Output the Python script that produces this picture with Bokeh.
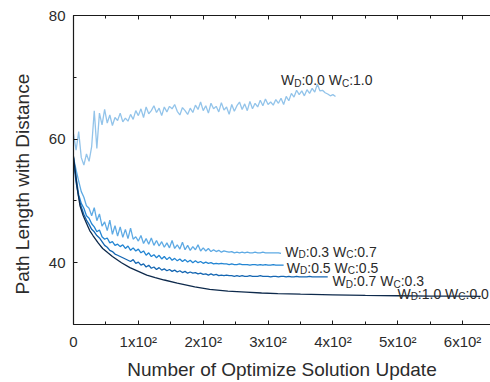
from bokeh.plotting import figure
from bokeh.models import (Range1d, LinearAxis, SingleIntervalTicker, Title,
                          ColumnDataSource, CustomJSTickFormatter)
from bokeh.core.properties import value
from bokeh.embed import file_html
from bokeh.resources import INLINE

# ---- data: path length per optimisation update (sampled every 4 updates) ----
step = 4

wd00_wc10 = [60.8, 58.2, 61.2, 57.0, 55.8, 57.6, 56.4, 58.8, 64.6, 58.5,
             64.2, 62.3, 64.8, 62.6, 63.9, 62.2, 63.5, 63.0, 64.2, 62.8,
             63.4, 62.9, 64.0, 63.2, 64.6, 63.8, 64.9, 63.5, 65.2, 64.1,
             64.6, 65.4, 64.3, 65.0, 63.8, 65.2, 64.4, 65.3, 64.9, 65.6,
             64.5, 63.9, 65.1, 64.6, 64.0, 65.0, 64.3, 65.5, 64.8, 66.0,
             64.6, 65.4, 64.2, 65.8, 64.9, 65.3, 64.4, 65.9, 64.7, 65.2,
             64.0, 65.6, 64.5, 65.4, 66.0, 64.8, 65.7, 64.6, 66.1, 64.9,
             65.8, 65.2, 66.3, 65.4, 66.5, 65.6, 66.0, 65.5, 66.4, 65.8,
             66.6, 65.6, 66.9, 66.2, 67.4, 66.8, 67.9, 67.2, 67.8, 67.0,
             68.0, 67.4, 68.2, 67.6, 68.9, 67.8, 67.9, 67.5, 67.3, 67.0,
             67.2, 66.9]

wd03_wc07 = [57.0, 55.0, 53.2, 51.5, 50.6, 49.2, 48.8, 47.6, 48.9, 46.8,
             47.9, 45.9, 46.6, 45.2, 46.9, 44.6, 46.0, 44.3, 45.8, 44.1,
             45.4, 43.9, 45.6, 43.8, 44.2, 43.5, 44.4, 43.1, 43.9, 43.0,
             44.0, 42.8, 43.6, 42.7, 43.4, 42.5, 43.2, 42.4, 43.6, 42.3,
             42.9, 42.2, 43.3, 42.1, 42.8, 42.0, 42.6, 42.1, 42.9, 41.9,
             42.4, 41.9, 42.3, 41.8, 42.1, 41.8, 42.0, 41.7, 41.9, 41.8,
             41.7, 41.8, 41.6, 41.7, 41.6, 41.7, 41.6, 41.7, 41.6, 41.6,
             41.7, 41.6, 41.6, 41.7, 41.6, 41.6, 41.6, 41.6, 41.6, 41.6,
             41.5]

wd05_wc05 = [57.0, 53.8, 51.0, 49.6, 48.8, 47.6, 47.2, 46.3, 45.8, 45.0,
             45.3, 44.2, 43.8, 44.0, 43.2, 43.4, 42.8, 43.0, 42.6, 42.9,
             42.3, 42.7, 42.0, 42.4, 41.9, 42.2, 41.6, 41.9, 41.2, 41.6,
             41.0, 41.3, 40.8, 41.2, 40.6, 41.0, 40.5, 40.9, 40.4, 40.7,
             40.3, 40.6, 40.2, 40.5, 40.1, 40.4, 40.0, 40.3, 40.0, 40.2,
             39.9, 40.1, 39.9, 40.0, 39.8, 39.9, 39.8, 39.9, 39.8, 39.8,
             39.7, 39.8, 39.7, 39.7, 39.8, 39.7, 39.7, 39.7, 39.6, 39.7,
             39.7, 39.6, 39.7, 39.6, 39.7, 39.6, 39.6, 39.7, 39.6, 39.6,
             39.6, 39.6]

wd07_wc03 = [56.5, 53.0, 50.6, 49.0, 47.8, 46.9, 46.2, 45.4, 45.0, 44.4,
             44.0, 43.4, 42.8, 42.5, 42.0, 41.8, 41.4, 41.2, 41.0, 40.8,
             40.6, 40.4, 40.2, 40.5, 39.9, 40.1, 39.6, 39.8, 39.3, 39.6,
             39.1, 39.3, 38.9, 39.2, 38.8, 39.0, 38.7, 38.9, 38.6, 38.8,
             38.5, 38.7, 38.4, 38.6, 38.3, 38.5, 38.3, 38.4, 38.2, 38.3,
             38.1, 38.2, 38.0, 38.2, 38.0, 38.1, 37.9, 38.0, 37.9, 38.0,
             37.9, 37.9, 37.8, 37.9, 37.8, 37.9, 37.8, 37.8, 37.9, 37.8,
             37.8, 37.8, 37.9, 37.8, 37.8, 37.8, 37.7, 37.8, 37.8, 37.7,
             37.8, 37.8, 37.7, 37.8, 37.7, 37.7, 37.8, 37.7, 37.7, 37.7,
             37.7, 37.8, 37.7, 37.7, 37.7, 37.7, 37.7, 37.7, 37.7]

wd10_wc00_x = [0, 3, 6, 10, 15, 20, 25, 30, 38, 45, 53, 60, 74, 87, 100, 113,
               126, 140, 160, 187, 210, 238, 266, 290, 315, 350, 400, 450,
               500, 550, 600, 628]
wd10_wc00 = [57.2, 54.5, 51.9, 49.2, 47.6, 46.4, 45.2, 44.4, 43.2, 42.3, 41.6,
             41.0, 40.0, 39.2, 38.6, 38.0, 37.6, 37.2, 36.7, 36.1, 35.7, 35.4,
             35.25, 35.1, 35.0, 34.9, 34.8, 34.7, 34.65, 34.6, 34.6, 34.55]

# series labels: weight of distance / weight of curvature and where they sit
label_wd = ["0.0", "0.3", "0.5", "0.7", "1.0"]
label_wc = ["1.0", "0.7", "0.5", "0.3", "0.0"]
label_x = [320, 326.6, 329, 399.5, 499.5]
label_y = [69.5, 41.8, 39.2, 37.0, 35.0]

x_ticks = [0, 100, 200, 300, 400, 500, 600]
x_tick_labels = ["0", "1x10\u00b2", "2x10\u00b2", "3x10\u00b2", "4x10\u00b2",
                 "5x10\u00b2", "6x10\u00b2"]

colors = ["#93c4ea", "#5eaae4", "#2285d3", "#1466b2", "#0e2a4c"]

FONT = "Liberation Sans"
TEXT = "#2b2b2b"
AXIS = "#1a1a1a"

p = figure(width=490, height=382, x_range=Range1d(0, 643), y_range=Range1d(30, 80),
           output_backend="svg", toolbar_location=None,
           min_border_left=72, min_border_right=0, min_border_top=15,
           min_border_bottom=56)
p.outline_line_color = None
p.xgrid.visible = False
p.ygrid.visible = False
p.background_fill_color = "white"
p.border_fill_color = "white"

# curves
series = [(wd00_wc10, None), (wd03_wc07, None), (wd05_wc05, None),
          (wd07_wc03, None), (wd10_wc00, wd10_wc00_x)]
for (ys, xs), c in zip(series, colors):
    if xs is None:
        xs = list(range(0, step * len(ys), step))
    p.line(xs, ys, line_color=c, line_width=1.3)


def style_ticks(ax):
    ax.axis_line_color = AXIS
    ax.axis_line_width = 1.2
    ax.major_tick_in = 4
    ax.major_tick_out = 0
    ax.minor_tick_in = 3
    ax.minor_tick_out = 0
    ax.major_tick_line_color = AXIS
    ax.minor_tick_line_color = AXIS


# axes
xax = p.xaxis[0]
xax.ticker = SingleIntervalTicker(interval=100, num_minor_ticks=2)
xax.major_label_overrides = {t: s for t, s in zip(x_ticks, x_tick_labels)}
xax.axis_label = "Number of Optimize Solution Update"
yax = p.yaxis[0]
yax.ticker = SingleIntervalTicker(interval=20, num_minor_ticks=2)

for ax in (xax, yax):
    style_ticks(ax)
    ax.major_label_text_font = FONT
    ax.major_label_text_font_size = "15px"
    ax.major_label_text_color = TEXT
    ax.major_label_standoff = 8
    ax.axis_label_text_font = FONT
    ax.axis_label_text_font_size = "19px"
    ax.axis_label_text_font_style = "normal"
    ax.axis_label_text_color = TEXT
xax.axis_label_standoff = 6

# top frame edge with inward ticks, no labels
top = LinearAxis(ticker=SingleIntervalTicker(interval=100, num_minor_ticks=2),
                 formatter=CustomJSTickFormatter(code="return ''"))
style_ticks(top)
top.major_label_standoff = 0
p.add_layout(top, "above")

# y-axis title, anchored from the bottom of the frame
ytitle = Title(text="Path Length with Distance", align="left", offset=30,
               vertical_align="top", standoff=22,
               text_font=FONT, text_font_size="19px", text_font_style="normal",
               text_color=TEXT)
p.add_layout(ytitle, "left")

# series labels "W_D:a W_C:b" with subscripts, built piecewise
ADV = {"W": 0.944, "D": 0.722, "C": 0.722, ":": 0.278, ".": 0.278, " ": 0.278}


def adv(s, size):
    return sum(ADV.get(ch, 0.556) for ch in s) * size


MAIN, SUB = 14, 10
main = dict(x=[], y=[], text=[], xo=[])
sub = dict(x=[], y=[], text=[], xo=[])
for lx, ly, a, b in zip(label_x, label_y, label_wd, label_wc):
    pieces = [("W", MAIN), ("D", SUB), (":" + a + " W", MAIN), ("C", SUB), (":" + b, MAIN)]
    off = 0.0
    for txt, size in pieces:
        tgt = main if size == MAIN else sub
        tgt["x"].append(lx)
        tgt["y"].append(ly)
        tgt["text"].append(txt)
        tgt["xo"].append(off)
        off += adv(txt, size)

p.text(x="x", y="y", text="text", x_offset="xo", source=ColumnDataSource(main),
       text_font=value(FONT), text_font_size="14px", text_color=TEXT,
       text_baseline="alphabetic", text_align="left")
p.text(x="x", y="y", text="text", x_offset="xo", y_offset=3,
       source=ColumnDataSource(sub),
       text_font=value(FONT), text_font_size="10px", text_color=TEXT,
       text_baseline="alphabetic", text_align="left")

open("out.html", "w").write(file_html(p, INLINE))
